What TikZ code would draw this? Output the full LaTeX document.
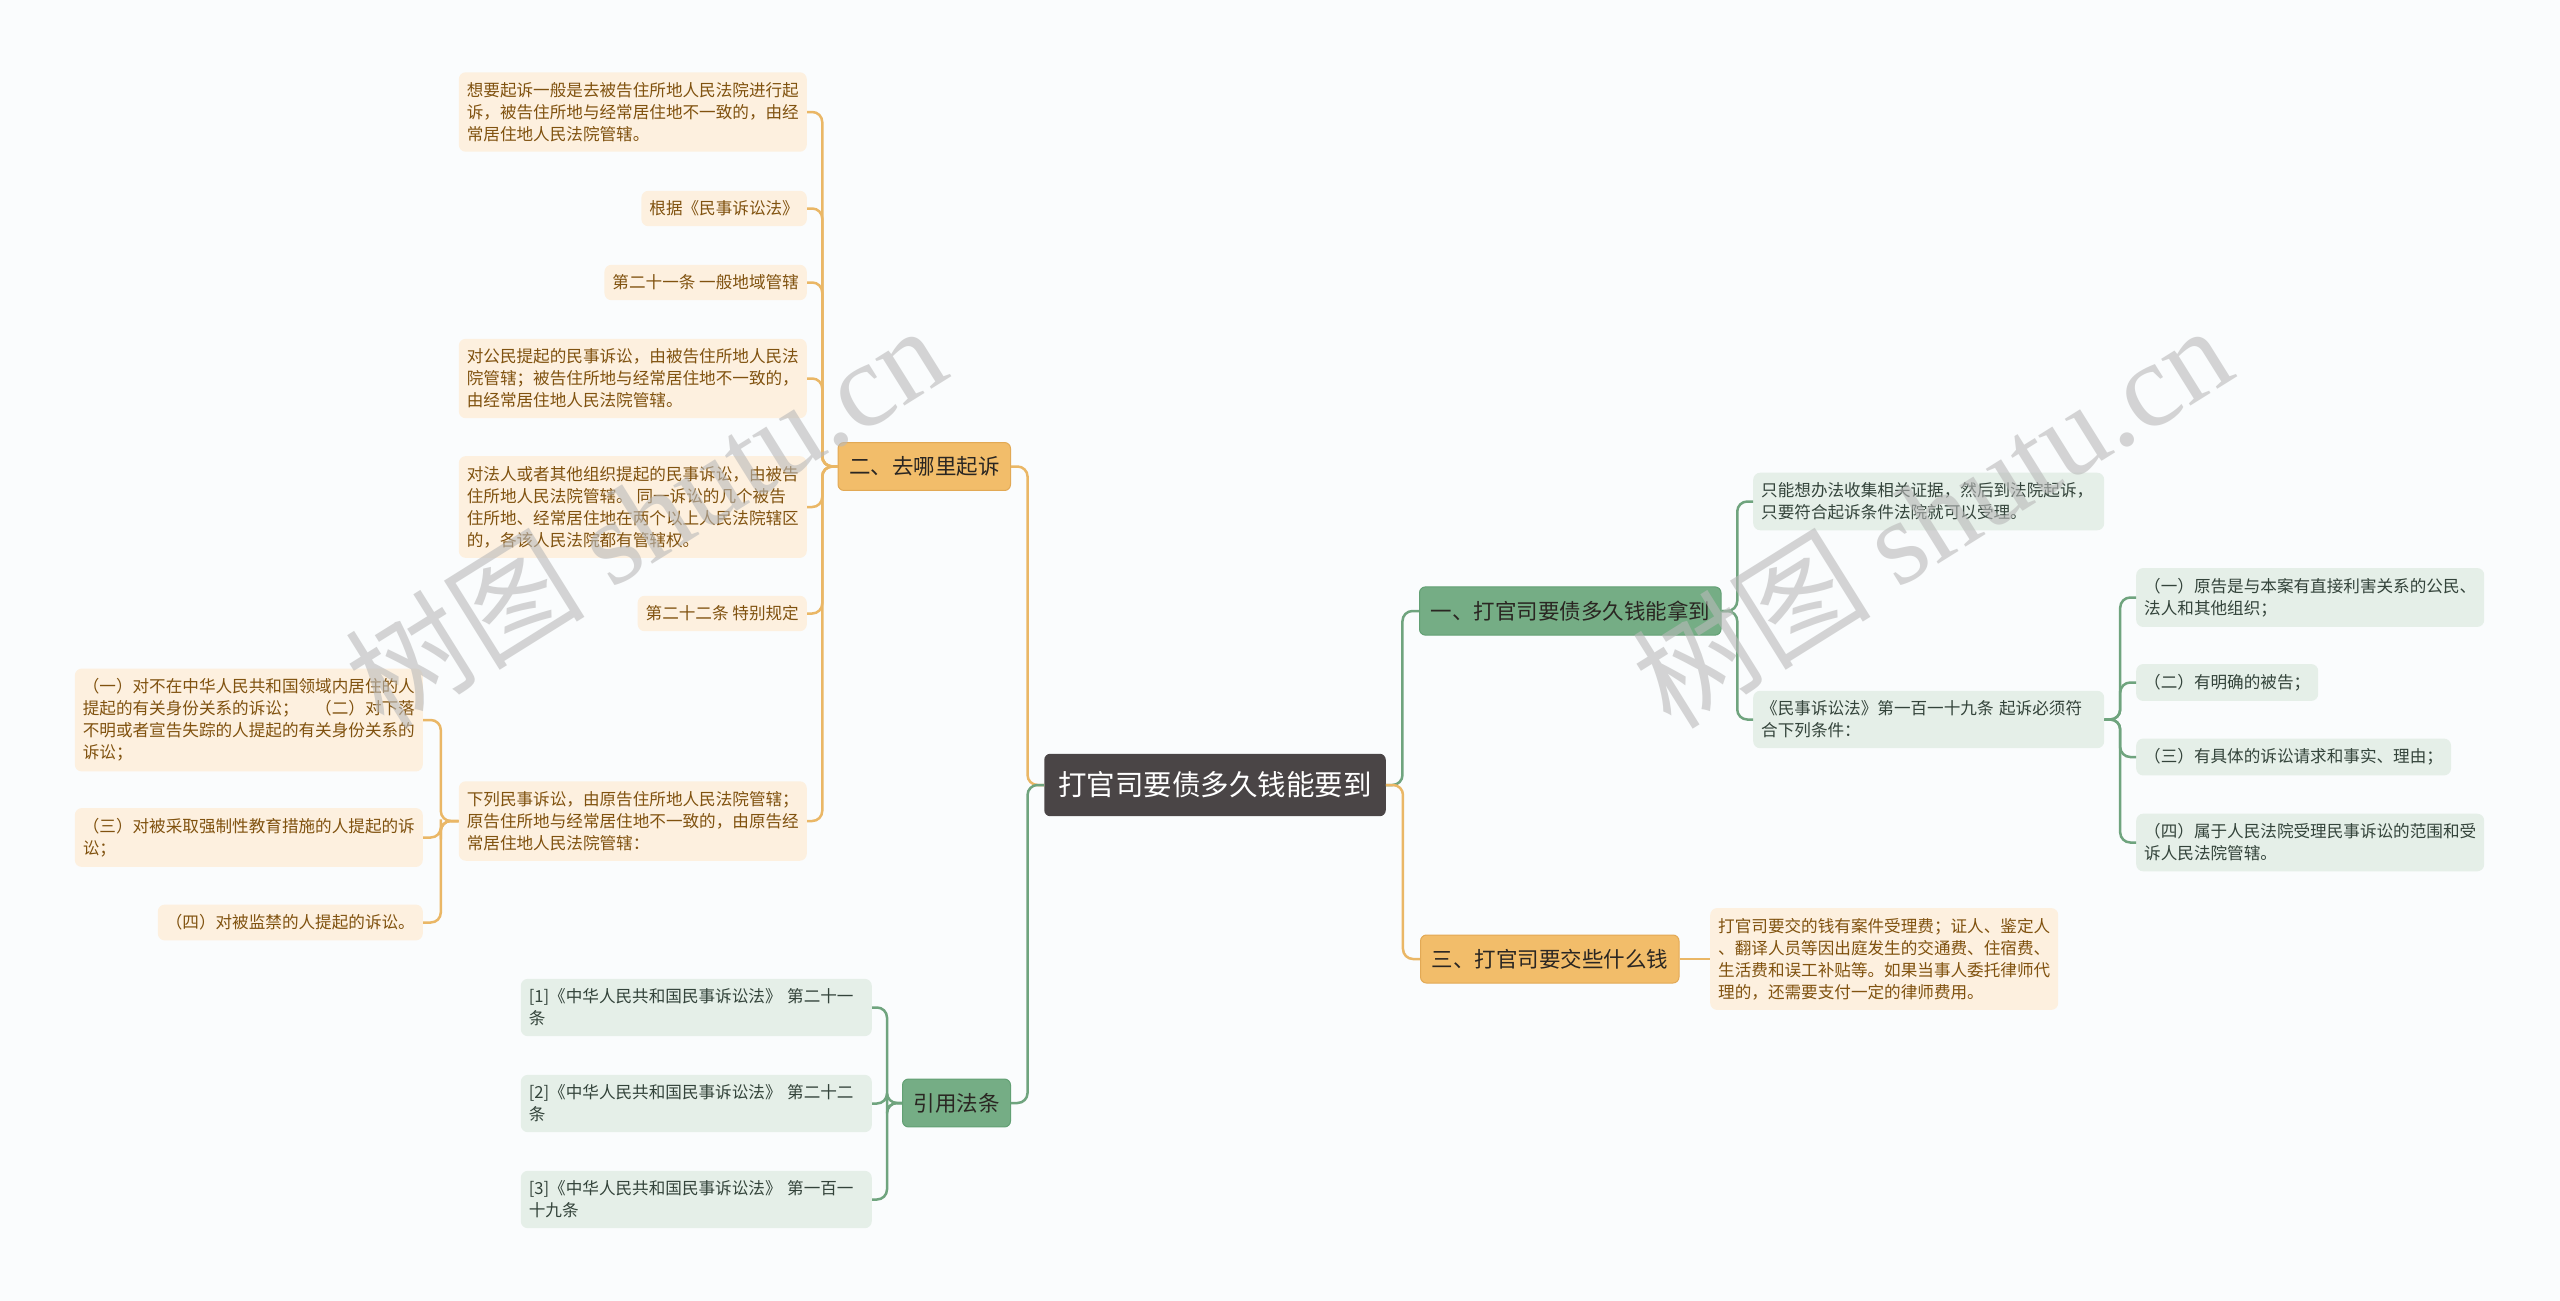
\documentclass[tikz,border=0pt]{standalone}
\usepackage{fontspec}
\setmainfont{Noto Sans CJK SC}
\newfontfamily\markfont{Liberation Serif}
\usepackage{xcolor}
\usetikzlibrary{
    calc
}

\definecolor{paper}{HTML}{FAFCFD}
\definecolor{rootfill}{HTML}{4A4546}
\definecolor{ochre}{HTML}{F2BD6A}
\definecolor{ochreedge}{HTML}{E2A955}
\definecolor{ochreline}{HTML}{EAB766}
\definecolor{ochreleaf}{HTML}{FDF0DF}
\definecolor{ochretext}{HTML}{80520F}
\definecolor{sage}{HTML}{75AD85}
\definecolor{sageedge}{HTML}{62A074}
\definecolor{sageline}{HTML}{6FA47E}
\definecolor{sageleaf}{HTML}{E5EFE8}
\definecolor{sagetext}{HTML}{33433A}
\definecolor{topictext}{HTML}{2A2622}
\definecolor{markgray}{HTML}{B9B9B9}

\begin{document}
\begin{tikzpicture}[
        x=1pt, y=-1pt,
        root/.style={
            rectangle,
            rounded corners=6pt,
            fill=rootfill,
            text=white,
            font=\fontsize{28.5pt}{34pt}\selectfont,
            inner xsep=14pt,
            inner ysep=18pt
        },
        topic/.style={
            rectangle,
            rounded corners=6pt,
            line width=1pt,
            text=topictext,
            font=\fontsize{21.5pt}{26pt}\selectfont,
            inner xsep=11pt,
            inner ysep=14pt
        },
        topicO/.style={topic, fill=ochre, draw=ochreedge},
        topicG/.style={topic, fill=sage, draw=sageedge},
        leaf/.style={
            rectangle,
            rounded corners=7pt,
            align=left,
            font=\fontsize{16.6pt}{22pt}\selectfont,
            inner xsep=8pt,
            inner ysep=10pt
        },
        wide/.style={text width=335pt},
        leafO/.style={leaf, fill=ochreleaf, text=ochretext},
        leafG/.style={leaf, fill=sageleaf, text=sagetext},
        link/.style={
            line width=2.5pt,
            rounded corners=10pt
        },
        linkO/.style={link, draw=ochreline},
        linkG/.style={link, draw=sageline},
        watermark/.style={
            text=markgray,
            opacity=0.6,
            font=\fontsize{120pt}{120pt}\selectfont
        }
    ]

    \useasboundingbox (0,0) rectangle (2560,1301);
    \fill[paper] (0,0) rectangle (2560,1301);

    % centre
    \node[root] (root) at (1215,785)
        {打官司要债多久钱能要到};

    % left branches
    \node[topicO, anchor=east] (where) at (1011,466.5)
        {二、去哪里起诉};
    \node[topicG, anchor=east] (cite) at (1011,1103)
        {引用法条};

    % right branches
    \node[topicG, anchor=west] (when) at (1419,611)
        {一、打官司要债多久钱能拿到};
    \node[topicO, anchor=west] (cost) at (1420,959)
        {三、打官司要交些什么钱};

    % where to sue
    \node[leafO, anchor=east] (venue) at (807,112)
        {想要起诉一般是去被告住所地人民法院进行起\\诉，被告住所地与经常居住地不一致的，由经\\常居住地人民法院管辖。};
    \node[leafO, anchor=east] (basis) at (807,208.5)
        {根据《民事诉讼法》};
    \node[leafO, anchor=east] (art21) at (807,282.5)
        {第二十一条 一般地域管辖};
    \node[leafO, anchor=east] (citizen) at (807,378.5)
        {对公民提起的民事诉讼，由被告住所地人民法\\院管辖；被告住所地与经常居住地不一致的，\\由经常居住地人民法院管辖。};
    \node[leafO, anchor=east] (legal) at (807,507)
        {对法人或者其他组织提起的民事诉讼，由被告\\住所地人民法院管辖。 同一诉讼的几个被告\\住所地、经常居住地在两个以上人民法院辖区\\的，各该人民法院都有管辖权。};
    \node[leafO, anchor=east] (art22) at (807,613.5)
        {第二十二条 特别规定};
    \node[leafO, anchor=east] (plaintiff) at (807,821)
        {下列民事诉讼，由原告住所地人民法院管辖；\\原告住所地与经常居住地不一致的，由原告经\\常居住地人民法院管辖：};

    \node[leafO, anchor=east] (abroad) at (423,720)
        {（一）对不在中华人民共和国领域内居住的人\\提起的有关身份关系的诉讼；　（二）对下落\\不明或者宣告失踪的人提起的有关身份关系的\\诉讼；};
    \node[leafO, anchor=east] (custody) at (423,837.5)
        {（三）对被采取强制性教育措施的人提起的诉\\讼；};
    \node[leafO, anchor=east] (prison) at (423,922.5)
        {（四）对被监禁的人提起的诉讼。};

    % cited articles
    \node[leafG, wide, anchor=east] (ref1) at (872,1007.5)
        {[1]《中华人民共和国民事诉讼法》 第二十一\\条};
    \node[leafG, wide, anchor=east] (ref2) at (872,1103.5)
        {[2]《中华人民共和国民事诉讼法》 第二十二\\条};
    \node[leafG, wide, anchor=east] (ref3) at (872,1199.5)
        {[3]《中华人民共和国民事诉讼法》 第一百一\\十九条};

    % how long
    \node[leafG, wide, anchor=west] (evidence) at (1753,501.5)
        {只能想办法收集相关证据，然后到法院起诉，\\只要符合起诉条件法院就可以受理。};
    \node[leafG, wide, anchor=west] (art119) at (1753,719.5)
        {《民事诉讼法》第一百一十九条 起诉必须符\\合下列条件：};

    \node[leafG, anchor=west] (cond1) at (2136,597.5)
        {（一）原告是与本案有直接利害关系的公民、\\法人和其他组织；};
    \node[leafG, anchor=west] (cond2) at (2136,682.5)
        {（二）有明确的被告；};
    \node[leafG, anchor=west] (cond3) at (2136,757)
        {（三）有具体的诉讼请求和事实、理由；};
    \node[leafG, anchor=west] (cond4) at (2136,842.5)
        {（四）属于人民法院受理民事诉讼的范围和受\\诉人民法院管辖。};

    % costs
    \node[leafO, anchor=west] (fees) at (1710,959)
        {打官司要交的钱有案件受理费；证人、鉴定人\\、翻译人员等因出庭发生的交通费、住宿费、\\生活费和误工补贴等。如果当事人委托律师代\\理的，还需要支付一定的律师费用。};

    % connectors
    \draw[linkO] (root.west) -| ($(root.west)!.5!(where.east)$) |- (where.east);
    \draw[linkG] (root.west) -| ($(root.west)!.5!(cite.east)$) |- (cite.east);
    \draw[linkG] (root.east) -| ($(root.east)!.5!(when.west)$) |- (when.west);
    \draw[linkO] (root.east) -| ($(root.east)!.5!(cost.west)$) |- (cost.west);

    \foreach \n in {venue,basis,art21,citizen,legal,art22,plaintiff}
        \draw[linkO] (where.west) -| ($(where.west)!.5!(\n.east)$) |- (\n.east);
    \foreach \n in {abroad,custody,prison}
        \draw[linkO] (plaintiff.west) -| ($(plaintiff.west)!.5!(\n.east)$) |- (\n.east);
    \foreach \n in {ref1,ref2,ref3}
        \draw[linkG] (cite.west) -| ($(cite.west)!.5!(\n.east)$) |- (\n.east);
    \foreach \n in {evidence,art119}
        \draw[linkG] (when.east) -| ($(when.east)!.5!(\n.west)$) |- (\n.west);
    \foreach \n in {cond1,cond2,cond3,cond4}
        \draw[linkG] (art119.east) -| ($(art119.east)!.5!(\n.west)$) |- (\n.west);
    \draw[linkO] (cost.east) -- (fees.west);

    % watermarks
    \node[watermark, rotate=32] (markL) at (645,515)
        {树图 {\markfont shutu.cn}};
    \node[watermark, rotate=32] (markR) at (1931,515)
        {树图 {\markfont shutu.cn}};

\end{tikzpicture}
\end{document}
